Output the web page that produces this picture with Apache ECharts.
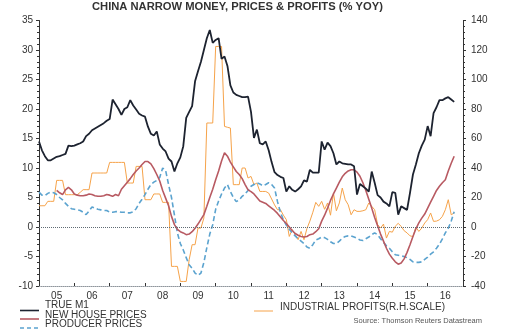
<!DOCTYPE html>
<html>
<head>
<meta charset="utf-8">
<script src="https://cdn.jsdelivr.net/npm/echarts@6/dist/echarts.min.js"></script>
<style>
html,body{margin:0;padding:0;background:#fff;}
#chart{width:530px;height:331px;}
</style>
</head>
<body>
<div id="chart"></div>
<script>
// Year tick labels (labels sit in the middle of each year)
const yearLabels = ['05','06','07','08','09','10','11','12','13','14','15','16'];
const startYear = 2005; // first month of the data = Jan 2005, monthly data

// TRUE M1, % yoy (left scale), monthly from Jan 2005
const trueM1 = [
14.5,13.0,12.0,11.3,11.3,11.6,11.9,12.0,12.2,12.4,
13.8,13.7,13.8,14.0,14.2,14.5,15.4,15.8,16.4,16.7,
17.0,17.3,17.6,18.0,18.3,21.6,20.8,20.0,19.0,20.0,
20.3,21.5,20.6,19.9,19.2,18.9,18.7,17.0,15.8,15.5,
16.2,14.0,13.3,12.8,11.6,11.1,9.4,10.8,11.8,13.7,
18.5,19.5,20.5,24.7,26.4,28.0,30.0,32.0,33.4,31.2,
31.7,32.0,28.5,28.9,27.3,24.0,22.8,22.4,22.2,22.0,
22.0,22.1,19.5,15.1,16.5,14.2,14.0,14.5,13.0,11.0,
9.3,8.8,8.5,8.3,6.0,6.9,6.3,6.0,6.4,6.9,
7.9,7.7,9.7,9.2,9.2,9.2,14.5,13.1,14.3,13.7,
12.5,10.6,11.1,10.8,10.7,10.6,10.6,10.3,5.5,7.3,
6.9,6.5,6.0,9.4,7.5,5.4,5.0,4.3,4.0,3.5,
5.9,5.8,2.1,3.5,3.2,2.9,5.8,8.9,10.6,12.5,
13.8,14.8,17.1,15.4,19.3,20.3,21.5,21.5,21.8,22.0,
21.6,21.2
];

// NEW HOUSE PRICES, % yoy (left scale)
const newHousePrices = [
null,null,null,null,null,null,6.2,5.8,5.5,6.3,
6.7,6.3,5.6,5.4,5.3,5.3,5.4,5.6,5.5,5.3,
5.2,5.2,5.3,5.5,5.4,5.2,5.5,5.3,6.4,7.0,
7.6,8.2,8.9,9.5,10.0,10.6,11.1,11.1,10.7,9.9,
8.9,7.8,6.2,4.9,3.6,1.8,0.4,-0.4,-0.8,-1.0,
-1.3,-1.2,-0.8,-0.2,0.5,1.3,2.1,3.5,5.0,6.4,
8.0,9.5,11.2,12.6,12.0,11.0,10.2,9.4,8.9,8.2,
7.2,6.3,6.0,5.6,5.0,4.4,4.2,4.0,3.6,3.2,
2.8,2.3,1.7,1.1,0.6,0.0,-0.6,-1.1,-1.4,-1.6,
-1.7,-1.6,-1.3,-1.2,-0.8,-0.3,1.0,2.0,3.2,4.5,
5.6,6.6,7.6,8.5,9.1,9.5,9.7,9.7,9.3,8.6,
7.5,6.2,4.7,3.2,1.6,0.2,-1.2,-2.4,-3.6,-4.6,
-5.3,-5.9,-6.3,-6.1,-5.4,-4.3,-3.0,-1.6,-0.3,0.7,
1.5,2.2,3.2,4.2,5.2,6.2,6.9,7.5,8.0,9.5,
10.8,12.0
];

// PRODUCER PRICES, % yoy (left scale)
const producerPrices = [
5.9,5.4,5.3,5.7,5.9,5.8,5.5,5.0,4.6,4.0,
3.5,3.1,3.0,2.9,2.8,2.5,2.1,2.7,3.4,3.2,
3.0,2.9,2.8,2.8,2.5,2.5,2.6,2.6,2.5,2.5,
2.4,2.4,2.6,3.1,4.0,4.7,5.5,6.4,7.2,7.6,
7.9,8.4,10.0,9.6,7.2,5.0,2.0,-1.0,-2.8,-3.9,
-5.2,-6.4,-7.0,-7.8,-8.2,-7.8,-6.0,-3.5,-1.2,0.4,
3.0,4.4,5.6,6.6,7.2,6.0,5.0,4.3,4.6,5.2,
5.6,6.2,6.9,7.2,7.5,7.3,7.0,7.2,7.5,7.2,
6.6,4.3,2.5,1.2,0.3,-0.4,-1.0,-1.5,-2.0,-2.4,
-2.8,-3.4,-3.6,-3.0,-2.2,-2.0,-1.7,-1.8,-2.1,-2.5,
-2.8,-2.8,-2.4,-1.9,-1.6,-1.5,-1.5,-1.7,-1.9,-2.2,
-2.3,-2.0,-1.7,-1.3,-1.0,-1.3,-2.0,-2.6,-3.2,-3.6,
-4.2,-4.7,-4.8,-4.9,-5.0,-5.2,-5.5,-5.9,-6.0,-6.0,
-5.9,-5.5,-5.1,-4.6,-4.2,-3.6,-2.9,-2.0,-1.0,-0.2,
1.0,2.6
];

// INDUSTRIAL PROFITS, % yoy (right scale)
const industrialProfits = [
14.4,14.4,14.4,17.4,17.4,17.4,31.6,31.6,31.6,21.9,
21.9,21.9,21.9,21.9,23.5,25.3,25.3,25.3,36.6,36.6,
36.6,36.6,36.6,36.6,43.8,43.8,43.8,43.8,43.8,43.8,
29.8,29.8,29.8,41.1,41.1,41.1,18.5,18.5,18.5,22.4,
22.4,22.4,16.7,16.7,16.7,-26.7,-26.7,-26.7,-36.9,-36.9,
-36.9,-22.2,-12.0,-12.0,-0.7,-0.7,6.1,70.5,70.5,70.5,
122.4,122.4,122.4,68.2,67.6,67.1,28.7,28.7,28.7,40.0,
40.0,33.2,34.3,28.7,29.8,24.1,24.1,24.1,23.0,19.0,
15.0,11.7,11.7,8.0,5.0,-6.4,-1.8,-5.2,-8.6,-3.0,
-8.6,-1.0,4.0,10.0,16.7,14.0,17.4,12.0,16.3,8.0,
23.0,11.0,16.3,26.4,18.5,15.1,8.3,11.7,10.6,10.6,
11.0,11.7,16.3,14.0,11.7,1.6,-0.7,2.0,-7.5,-3.0,
-3.5,0.5,2.5,0.4,-2.5,-4.0,-6.0,-6.5,0.0,-3.0,
-0.7,2.7,5.0,9.5,3.8,4.0,4.9,7.2,11.7,18.5,
8.3,9.5
];

const seriesNames = ['TRUE M1','NEW HOUSE PRICES','PRODUCER PRICES','INDUSTRIAL PROFITS(R.H.SCALE)'];
const colors = ['#1d2330','#b85a62','#5ba3cf','#f6a34a'];
const titleText = 'CHINA NARROW MONEY, PRICES & PROFITS (% YOY)';

function toPairs(arr){ return arr.map(function(v,i){ return [startYear + i/12, v]; }); }

const FAM = "'Liberation Sans', Arial, sans-serif";

// fit the title to the reference width (about 291 px)
function fitFont(text, weight, targetW, base){
  const c = document.createElement('canvas').getContext('2d');
  c.font = weight + ' ' + base + 'px ' + FAM;
  const w = c.measureText(text).width;
  return w > 0 ? base * targetW / w : base;
}
const titleSize = fitFont(titleText, 'bold', 291, 13);

const chart = echarts.init(document.getElementById('chart'), null, {renderer:'canvas'});

const option = {
  animation: false,
  backgroundColor: '#ffffff',
  grid: {left: 39, right: 67, top: 20.5, bottom: 45, containLabel: false},
  xAxis: [
    {
      type: 'value', min: 2005, max: 2017, interval: 1,
      axisLabel: {show: false},
      axisLine: {show: true, onZero: false, lineStyle: {color: '#8f969c', type: 'dotted', width: 1}},
      axisTick: {show: true, inside: true, length: 3, lineStyle: {color: '#333'}},
      splitLine: {show: false}
    },
    {
      type: 'category', data: yearLabels, position: 'bottom', boundaryGap: true,
      axisLine: {show: false}, axisTick: {show: false}, splitLine: {show: false},
      axisLabel: {interval: 0, fontSize: 10, color: '#333', margin: 5, fontFamily: FAM}
    }
  ],
  yAxis: [
    {
      type: 'value', min: -10, max: 35, interval: 5, position: 'left',
      axisLine: {show: true, lineStyle: {color: '#333'}},
      axisTick: {show: true, length: 3, lineStyle: {color: '#333'}},
      minorTick: {show: true, splitNumber: 5, length: 2, lineStyle: {color: '#333'}},
      splitLine: {show: false},
      axisLabel: {fontSize: 10, color: '#333', margin: 6, fontFamily: FAM}
    },
    {
      type: 'value', min: -40, max: 140, interval: 20, position: 'right',
      axisLine: {show: true, lineStyle: {color: '#333'}},
      axisTick: {show: true, length: 3, lineStyle: {color: '#333'}},
      minorTick: {show: true, splitNumber: 5, length: 2, lineStyle: {color: '#333'}},
      splitLine: {show: false},
      axisLabel: {fontSize: 10, color: '#333', margin: 8, fontFamily: FAM}
    }
  ],
  series: [
    {
      name: seriesNames[3], type: 'line', xAxisIndex: 0, yAxisIndex: 1,
      data: toPairs(industrialProfits), showSymbol: false, z: 2,
      lineStyle: {color: colors[3], width: 1}
    },
    {
      name: seriesNames[2], type: 'line', xAxisIndex: 0, yAxisIndex: 0,
      data: toPairs(producerPrices), showSymbol: false, z: 3,
      lineStyle: {color: colors[2], width: 1.6, type: [5, 3]}
    },
    {
      name: seriesNames[1], type: 'line', xAxisIndex: 0, yAxisIndex: 0,
      data: toPairs(newHousePrices), showSymbol: false, z: 4, connectNulls: false,
      lineStyle: {color: colors[1], width: 1.6}
    },
    {
      name: seriesNames[0], type: 'line', xAxisIndex: 0, yAxisIndex: 0,
      data: toPairs(trueM1), showSymbol: false, z: 5,
      lineStyle: {color: colors[0], width: 1.8},
      markLine: {
        silent: true, symbol: 'none', label: {show: false},
        lineStyle: {color: '#5f6b73', type: 'dotted', width: 1},
        data: [{yAxis: 0}]
      }
    }
  ],
  graphic: [
    {type: 'text', x: 92, y: 7, style: {text: titleText, fontFamily: FAM, fontSize: titleSize, fontWeight: 'bold', fill: '#333', textVerticalAlign: 'middle'}},
    // left legend block
    {type: 'line', shape: {x1: 20, y1: 310.5, x2: 39, y2: 310.5}, style: {stroke: colors[0], lineWidth: 1.6}},
    {type: 'text', x: 45, y: 305.5, style: {text: seriesNames[0], fontFamily: FAM, fontSize: 10, fill: '#333', textVerticalAlign: 'middle'}},
    {type: 'line', shape: {x1: 20, y1: 319, x2: 39, y2: 319}, style: {stroke: colors[1], lineWidth: 1.6}},
    {type: 'text', x: 45, y: 315, style: {text: seriesNames[1], fontFamily: FAM, fontSize: 10, fill: '#333', textVerticalAlign: 'middle'}},
    {type: 'line', shape: {x1: 20, y1: 328, x2: 39, y2: 328}, style: {stroke: colors[2], lineWidth: 1.6, lineDash: [4, 3]}},
    {type: 'text', x: 45, y: 324, style: {text: seriesNames[2], fontFamily: FAM, fontSize: 10, fill: '#333', textVerticalAlign: 'middle'}},
    // right legend item
    {type: 'line', shape: {x1: 254, y1: 311, x2: 273, y2: 311}, style: {stroke: colors[3], lineWidth: 1}},
    {type: 'text', x: 280, y: 307, style: {text: seriesNames[3], fontFamily: FAM, fontSize: 10, fill: '#333', textVerticalAlign: 'middle'}},
    {type: 'text', x: 482, y: 321, style: {text: 'Source: Thomson Reuters Datastream', fontFamily: FAM, fontSize: 7.5, fill: '#555', textAlign: 'right', textVerticalAlign: 'middle'}}
  ]
};
chart.setOption(option);
</script>
</body>
</html>
